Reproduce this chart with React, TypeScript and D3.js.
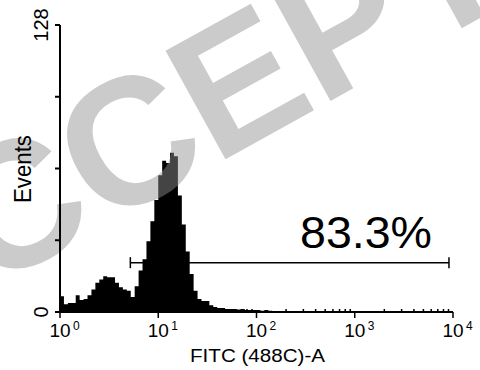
import { useEffect, useRef } from 'react';
import * as d3 from 'd3';

// FITC histogram, 25 bins per decade starting at 10^0
const BINS_PER_DECADE = 25;
const counts = [
  7, 3.5, 4, 4, 7.5, 5.3, 5.8, 7.5, 10, 13, 14.5, 16, 15.5, 15.5, 13, 11, 10, 9.5, 6.7, 11.5,
  18.5, 23.5, 31.5, 40.5, 50, 61, 67.5, 66.5, 71, 69.5, 52, 39, 27, 17, 9.5, 5.8, 4.9, 4.9, 3, 2.2,
  1.8, 1.8, 1.3, 1.3, 1.3, 1.1, 1.3, 0.9, 0.9, 0.9, 0.9, 0.6, 0.9, 0.6, 0.4, 0.3, 0.2, 0.2, 0.1, 0.1,
];
const xDecades = [0, 1, 2, 3, 4];
const yTicks = [0, 32, 64, 96, 128];
const yTickLabels = ['0', '128'];
const gate = { from: 5.2, to: 9100, level: 22, label: '83.3%' };
const watermark = 'ACCEPTED';

const FONT = '"Liberation Sans", Arial, Helvetica, sans-serif';

export default function App() {
  const svgRef = useRef<SVGSVGElement>(null);

  useEffect(() => {
    if (!svgRef.current) return;
    const svg = d3.select(svgRef.current);
    svg.selectAll('*').remove();

    const x = d3.scaleLog().domain([1, 1e4]).range([60, 453]);
    const y = d3.scaleLinear().domain([0, 128]).range([312, 25]);

    // Histogram as a step area
    const pts = counts.map((c, i) => ({ v: Math.pow(10, i / BINS_PER_DECADE), c }));
    pts.push({ v: Math.pow(10, counts.length / BINS_PER_DECADE), c: 0 });
    const area = d3
      .area<{ v: number; c: number }>()
      .x((d) => x(d.v))
      .y0(y(0))
      .y1((d) => y(d.c))
      .curve(d3.curveStepAfter);
    svg.append('path').attr('d', area(pts) ?? '').attr('fill', '#000');

    // Watermark (over the histogram, under the axes)
    svg
      .append('text')
      .attr('transform', 'translate(-126,354) rotate(-29)')
      .attr('font-family', FONT)
      .attr('font-weight', 'bold')
      .attr('font-size', 180)
      .attr('fill', '#919191')
      .attr('opacity', 0.47)
      .text(watermark);

    // Axes
    svg.append('line')
      .attr('x1', 60).attr('x2', 60)
      .attr('y1', y(128)).attr('y2', y(0) + 1)
      .attr('stroke', '#000').attr('stroke-width', 2);
    svg.append('line')
      .attr('x1', 59).attr('x2', x(1e4))
      .attr('y1', y(0)).attr('y2', y(0))
      .attr('stroke', '#000').attr('stroke-width', 2);

    yTicks.forEach((t) => {
      svg.append('line')
        .attr('x1', 55).attr('x2', 60)
        .attr('y1', y(t)).attr('y2', y(t))
        .attr('stroke', '#000').attr('stroke-width', 2);
    });
    [0, 128].forEach((t, i) => {
      svg.append('text')
        .attr('transform', `translate(48,${y(t)}) rotate(-90)`)
        .attr('text-anchor', 'middle')
        .attr('font-family', FONT)
        .attr('font-size', 20)
        .text(yTickLabels[i]);
    });

    xDecades.forEach((d) => {
      const px = x(Math.pow(10, d));
      svg.append('line')
        .attr('x1', px).attr('x2', px)
        .attr('y1', y(0)).attr('y2', y(0) + 6)
        .attr('stroke', '#000').attr('stroke-width', 1.5);
      if (d < 4) {
        for (let k = 2; k <= 9; k++) {
          const mx = x(k * Math.pow(10, d));
          svg.append('line')
            .attr('x1', mx).attr('x2', mx)
            .attr('y1', y(0) - 3).attr('y2', y(0))
            .attr('stroke', '#000').attr('stroke-width', 1.5);
        }
      }
      svg.append('text')
        .attr('x', px).attr('y', 337)
        .attr('text-anchor', 'middle')
        .attr('font-family', FONT)
        .attr('font-size', 19)
        .text('10');
      svg.append('text')
        .attr('x', px + 13).attr('y', 330)
        .attr('font-family', FONT)
        .attr('font-size', 12)
        .text(String(d));
    });

    // Axis labels
    svg.append('text')
      .attr('x', 190).attr('y', 362)
      .attr('font-family', FONT)
      .attr('font-size', 18)
      .attr('textLength', 135)
      .attr('lengthAdjust', 'spacingAndGlyphs')
      .text('FITC (488C)-A');
    svg.append('text')
      .attr('transform', 'translate(31,203) rotate(-90)')
      .attr('font-family', FONT)
      .attr('font-size', 23)
      .attr('textLength', 68)
      .attr('lengthAdjust', 'spacingAndGlyphs')
      .text('Events');

    // Gate marker
    const gy = y(gate.level);
    const gx1 = x(gate.from);
    const gx2 = x(gate.to);
    svg.append('line')
      .attr('x1', gx1).attr('x2', gx2).attr('y1', gy).attr('y2', gy)
      .attr('stroke', '#000').attr('stroke-width', 1.5);
    [gx1, gx2].forEach((gx) => {
      svg.append('line')
        .attr('x1', gx).attr('x2', gx).attr('y1', gy - 5.5).attr('y2', gy + 5.5)
        .attr('stroke', '#000').attr('stroke-width', 1.5);
    });
    svg.append('text')
      .attr('x', 300).attr('y', 248)
      .attr('font-family', FONT)
      .attr('font-size', 44)
      .attr('textLength', 132)
      .attr('lengthAdjust', 'spacingAndGlyphs')
      .text(gate.label);
  }, []);

  return (
    <svg
      ref={svgRef}
      width={480}
      height={370}
      style={{ position: 'fixed', left: 0, top: 0, background: '#fff' }}
    />
  );
}
